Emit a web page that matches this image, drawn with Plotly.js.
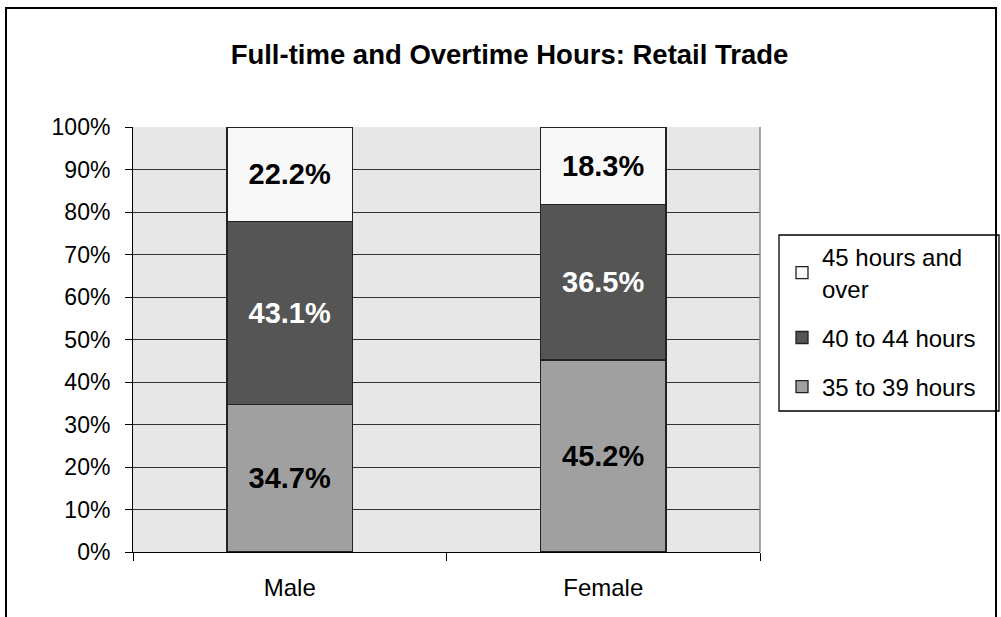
<!DOCTYPE html>
<html>
<head>
<meta charset="utf-8">
<script src="https://cdn.plot.ly/plotly-3.0.1.min.js"></script>
<style>
html,body{margin:0;padding:0;background:#fff;}
#frame{position:absolute;left:5px;top:7px;width:992px;height:620px;border-left:2px solid #000;border-top:2px solid #000;border-right:2px solid #000;box-sizing:border-box;}
#chart{position:absolute;left:0;top:0;width:1001px;height:617px;}
</style>
</head>
<body>
<div id="frame"></div>
<div id="chart"></div>
<script>
const categories = ["Male", "Female"];
const series35to39 = [34.7, 45.2];
const series40to44 = [43.1, 36.5];
const series45plus = [22.2, 18.3];
const seriesNames = ["35 to 39 hours", "40 to 44 hours", "45 hours and<br>over"];
const yTicks = [0,10,20,30,40,50,60,70,80,90,100];

const FONT = "Arial, Liberation Sans, sans-serif";
const fmt = v => v.toFixed(1) + "%";
const common = {
  type: "bar",
  x: categories,
  width: 0.4,
  textposition: "inside",
  insidetextanchor: "middle",
  textangle: 0,
  constraintext: "none",
  hoverinfo: "none"
};
const traces = [
  Object.assign({}, common, {
    name: seriesNames[0], legendgroup: "g1", legendrank: 3, y: series35to39, text: series35to39.map(fmt),
    marker: {color: "#a0a0a0", line: {color: "#222", width: 1.3}},
    textfont: {family: FONT, size: 29, color: "#000", weight: "bold"}
  }),
  Object.assign({}, common, {
    name: seriesNames[1], legendgroup: "g2", legendrank: 2, y: series40to44, text: series40to44.map(fmt),
    marker: {color: "#555555", line: {color: "#222", width: 1.3}},
    textfont: {family: FONT, size: 29, color: "#fff", weight: "bold"}
  }),
  Object.assign({}, common, {
    name: seriesNames[2], legendgroup: "g3", legendrank: 1, y: series45plus, text: series45plus.map(fmt),
    marker: {color: "#f8f8f8", line: {color: "#222", width: 1.3}},
    textfont: {family: FONT, size: 29, color: "#000", weight: "bold"}
  })
];

const L = 133, R = 760, T = 127, B = 552, W = 1001, H = 617;
const px = x => (x - L) / (R - L);
const py = y => (B - y) / (B - T);

const layout = {
  width: W, height: H,
  margin: {l: L, r: W - R, t: T, b: H - B, pad: 0},
  paper_bgcolor: "rgba(0,0,0,0)",
  plot_bgcolor: "#e7e7e7",
  font: {family: FONT, color: "#000", size: 23},
  barmode: "stack",
  bargap: 0.6,
  showlegend: true,
  title: {
    text: "<b>Full-time and Overtime Hours: Retail Trade</b>",
    font: {size: 27.5, family: FONT, color: "#000"},
    x: 0.509, xanchor: "center", y: 1 - 54/H, yanchor: "middle"
  },
  xaxis: {
    type: "category",
    tickson: "boundaries",
    ticks: "outside", ticklen: 8, tickcolor: "#000", tickwidth: 1,
    showline: true, linecolor: "#000", linewidth: 1,
    showgrid: false,
    tickfont: {size: 24},
    ticklabelstandoff: 14,
    fixedrange: true
  },
  yaxis: {
    range: [0, 100],
    tickvals: yTicks,
    ticktext: yTicks.map(v => v + "%"),
    ticks: "outside", ticklen: 7, tickcolor: "#000",
    showline: true, linecolor: "#000", linewidth: 1,
    showgrid: true, gridcolor: "#333", gridwidth: 1,
    zeroline: false,
    tickfont: {size: 23},
    ticklabelstandoff: 10,
    fixedrange: true
  },
  legend: {
    x: px(782), y: py(235), xanchor: "left", yanchor: "top",
    traceorder: "grouped",
    tracegroupgap: 15,
    bgcolor: "rgba(0,0,0,0)", borderwidth: 0,
    font: {size: 24, family: FONT},
    itemwidth: 30
  },
  shapes: [
    {type: "line", xref: "paper", yref: "paper", x0: 1, x1: 1, y0: 0, y1: 1, line: {color: "#888", width: 1.5}},
    {type: "rect", xref: "paper", yref: "paper", x0: px(779), x1: px(999), y0: py(411), y1: py(235), line: {color: "#000", width: 1.3}, fillcolor: "rgba(0,0,0,0)"}
  ]
};

Plotly.newPlot("chart", traces, layout, {displayModeBar: false, staticPlot: true});
</script>
</body>
</html>
